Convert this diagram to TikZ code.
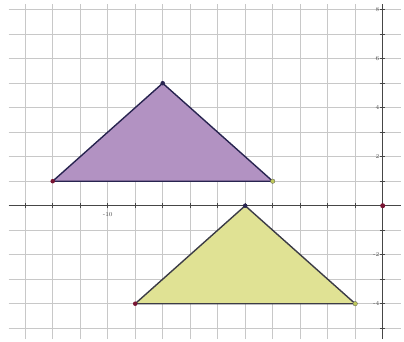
\documentclass[tikz,border=0pt]{standalone}
\definecolor{gridc}{RGB}{200,200,200}
\definecolor{axisc}{RGB}{70,70,70}
\definecolor{purplefill}{RGB}{178,146,194}
\definecolor{yellowfill}{RGB}{224,226,148}
\definecolor{edgec}{RGB}{40,36,80}
\definecolor{edgey}{RGB}{60,60,70}
\definecolor{reddot}{RGB}{120,20,50}
\definecolor{greendot}{RGB}{190,200,90}
\tikzset{
  gridline/.style={gridc, line width=0.9pt},
  axisline/.style={axisc, line width=0.9pt},
  tri/.style={line width=1.4pt, line join=round},
  vdot/.style={circle, inner sep=0pt, minimum size=4.5pt},
  lbl/.style={font=\fontsize{6}{6}\selectfont, text=gray!60!black, inner sep=0pt}
}
\begin{document}
\begin{tikzpicture}[x=27.5pt,y=24.5pt]
\useasboundingbox[fill=white] (-13.916,-5.522) rectangle (0.7745,8.396);
% grid
\foreach \i in {-13,...,-1} \draw[gridline] (\i,-5.45) -- (\i,8.25);
\foreach \j in {-5,...,-1,1,2,...,8} \draw[gridline] (-13.6,\j) -- (0.65,\j);
% axes
\draw[axisline] (-13.6,0) -- (0.65,0);
\draw[axisline] (0,-5.45) -- (0,8.25);
\foreach \i in {-13,...,-1} \draw[axisc, line width=0.6pt] (\i,-0.1) -- (\i,0.1);
\foreach \j in {-5,...,-1,1,2,...,8} \draw[axisc, line width=0.6pt] (-0.1,\j) -- (0.1,\j);
% axis labels
\foreach \j in {8,6,4,2,-2,-4} \node[lbl, anchor=east] (ly\j) at (-0.12,\j) {\j};
\node[lbl] (lx) at (-10,-0.38) {-10};
% purple triangle
\coordinate (A) at (-12,1);
\coordinate (B) at (-8,5);
\coordinate (C) at (-4,1);
\fill[purplefill] (A) -- (B) -- (C) -- cycle;
\draw[tri, edgec] (A) -- (B) -- (C) -- cycle;
% yellow triangle
\coordinate (D) at (-9,-4);
\coordinate (E) at (-5,0);
\coordinate (F) at (-1,-4);
\fill[yellowfill] (D) -- (E) -- (F) -- cycle;
\draw[tri, edgey] (D) -- (E) -- (F) -- cycle;
% vertex dots
\node[vdot, fill=reddot] (dA) at (A) {};
\node[vdot, fill=edgec] (dB) at (B) {};
\node[vdot, fill=greendot, draw=gray!70!black, line width=0.3pt] (dC) at (C) {};
\node[vdot, fill=reddot] (dD) at (D) {};
\node[vdot, fill=edgec] (dE) at (E) {};
\node[vdot, fill=greendot, draw=gray!70!black, line width=0.3pt] (dF) at (F) {};
\node[vdot, fill=reddot, minimum size=5pt] (O) at (0,0) {};
\end{tikzpicture}
\end{document}
